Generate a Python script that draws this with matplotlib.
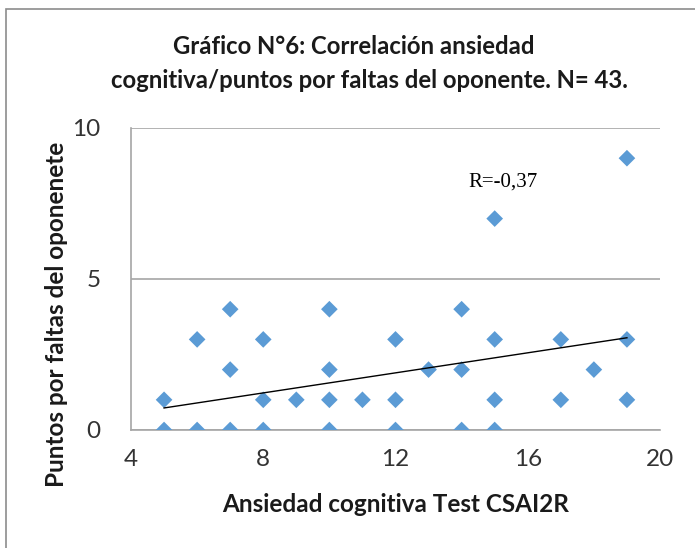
import matplotlib
matplotlib.use("Agg")
import matplotlib.pyplot as plt
from matplotlib.patches import Rectangle
import numpy as np

# Data
x_vals = [5, 5, 6, 6, 7, 7, 7, 8, 8, 8, 9, 10, 10, 10, 10, 11, 12, 12, 12, 13,
          14, 14, 14, 15, 15, 15, 15, 17, 17, 18, 19, 19, 19]
y_vals = [1, 0, 3, 0, 4, 2, 0, 3, 1, 0, 1, 4, 2, 1, 0, 1, 3, 1, 0, 2,
          4, 2, 0, 7, 3, 1, 0, 3, 1, 2, 9, 3, 1]
trend_slope = 0.166
trend_intercept = -0.10
trend_range = [5, 19]
x_ticks = [4, 8, 12, 16, 20]
y_ticks = [0, 5, 10]
title_lines = ["Gráfico N°6: Correlación ansiedad",
               "cognitiva/puntos por faltas del oponente. N= 43."]
xlabel = "Ansiedad cognitiva Test CSAI2R"
ylabel = "Puntos por faltas del oponenete"
r_text = "R=-0,37"

W, H = 695, 548
fig = plt.figure(figsize=(W / 100, H / 100), dpi=100)
font = ["Lato", "DejaVu Sans"]

# outer chart frame
fig.patches.append(Rectangle((6 / W, -0.1), 1.2, (H - 9) / H + 0.1, transform=fig.transFigure,
                             fill=False, edgecolor="#8c8c8c", linewidth=1.2))

ax = fig.add_axes([131 / W, 1 - 430 / H, (660 - 131) / W, (430 - 128) / H])
ax.set_xlim(4, 20)
ax.set_ylim(0, 10)
ax.set_xticks(x_ticks)
ax.set_yticks(y_ticks)
ax.tick_params(length=0, labelsize=17.5, colors="#333333")
for lab in ax.get_xticklabels() + ax.get_yticklabels():
    lab.set_family(font)
ax.tick_params(axis="x", pad=14)
ax.tick_params(axis="y", pad=22)
ax.grid(axis="y", color="#a6a6a6", linewidth=1.2)
ax.set_axisbelow(True)
for s in ["top", "right"]:
    ax.spines[s].set_visible(False)
for s in ["left", "bottom"]:
    ax.spines[s].set_color("#a6a6a6")
    ax.spines[s].set_linewidth(1.2)

ax.scatter(x_vals, y_vals, marker="D", s=72, color="#5B9BD5", edgecolors="none", zorder=3)
tx = np.array(trend_range)
ax.plot(tx, trend_slope * tx + trend_intercept, color="black", linewidth=1, zorder=4)

ax.text(15.25, 8.2, r_text, family=["Liberation Serif"], fontsize=15, ha="center", va="center")

fig.text(354 / W, 1 - 47 / H, title_lines[0], ha="center", va="center", fontsize=17.2,
         fontweight="bold", family=font, color="#1a1a1a")
fig.text(369 / W, 1 - 80 / H, title_lines[1], ha="center", va="center", fontsize=17.2,
         fontweight="bold", family=font, color="#1a1a1a")
fig.text(396 / W, 1 - 505 / H, xlabel, ha="center", va="center", fontsize=17.5,
         fontweight="bold", family=font, color="#1a1a1a")
fig.text(57 / W, 1 - 314 / H, ylabel, ha="center", va="center", rotation=90, fontsize=17.5,
         fontweight="bold", family=font, color="#1a1a1a")

fig.savefig("out.png", dpi=100)
